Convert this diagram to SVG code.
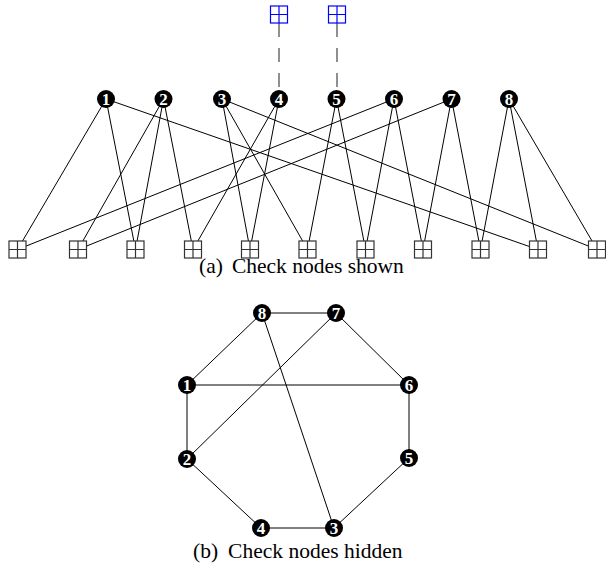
<svg xmlns="http://www.w3.org/2000/svg" width="606" height="563" viewBox="0 0 606 563">
<style>
.e{stroke:#000;stroke-width:1;fill:none}
.d{stroke:#555;stroke-width:1.3;stroke-dasharray:14 11;fill:none}
.v circle{fill:#000}
.v text{fill:#fff;font-family:"Liberation Serif",serif;font-weight:bold;font-size:17px;text-anchor:middle}
.c{fill:#fff;stroke:#333;stroke-width:1.2}
.b{fill:#fff;stroke:#00f;stroke-width:1.2}
.cap{font-family:"Liberation Serif",serif;font-size:21.5px;fill:#000}
</style>
<defs>
<g id="chk"><rect x="-8.5" y="-8.5" width="17" height="17"/><path d="M0,-8.5V8.5M-8.5,0H8.5"/></g>
</defs>
<g id="connectors">
<line class="d" x1="279" y1="23" x2="279" y2="90"/>
<line class="d" x1="337" y1="23" x2="337" y2="90"/>
<line class="e" x1="106" y1="99" x2="17.5" y2="249.5"/>
<line class="e" x1="106" y1="99" x2="135.5" y2="249.5"/>
<line class="e" x1="106" y1="99" x2="538" y2="249.5"/>
<line class="e" x1="163.5" y1="99" x2="78" y2="249.5"/>
<line class="e" x1="163.5" y1="99" x2="135.5" y2="249.5"/>
<line class="e" x1="163.5" y1="99" x2="193" y2="249.5"/>
<line class="e" x1="222" y1="99" x2="250" y2="249.5"/>
<line class="e" x1="222" y1="99" x2="307.5" y2="249.5"/>
<line class="e" x1="222" y1="99" x2="597" y2="249.5"/>
<line class="e" x1="279" y1="99" x2="193" y2="249.5"/>
<line class="e" x1="279" y1="99" x2="250" y2="249.5"/>
<line class="e" x1="336.5" y1="99" x2="307.5" y2="249.5"/>
<line class="e" x1="336.5" y1="99" x2="365.5" y2="249.5"/>
<line class="e" x1="394" y1="99" x2="17.5" y2="249.5"/>
<line class="e" x1="394" y1="99" x2="365.5" y2="249.5"/>
<line class="e" x1="394" y1="99" x2="423" y2="249.5"/>
<line class="e" x1="451.5" y1="99" x2="78" y2="249.5"/>
<line class="e" x1="451.5" y1="99" x2="423" y2="249.5"/>
<line class="e" x1="451.5" y1="99" x2="480.5" y2="249.5"/>
<line class="e" x1="509" y1="99" x2="480.5" y2="249.5"/>
<line class="e" x1="509" y1="99" x2="538" y2="249.5"/>
<line class="e" x1="509" y1="99" x2="597" y2="249.5"/>
<line class="e" x1="262" y1="313" x2="336" y2="313"/>
<line class="e" x1="262" y1="313" x2="187" y2="385"/>
<line class="e" x1="262" y1="313" x2="334" y2="528"/>
<line class="e" x1="336" y1="313" x2="187" y2="459"/>
<line class="e" x1="336" y1="313" x2="409" y2="385"/>
<line class="e" x1="187" y1="385" x2="409" y2="385"/>
<line class="e" x1="187" y1="385" x2="187" y2="459"/>
<line class="e" x1="409" y1="385" x2="409" y2="458"/>
<line class="e" x1="187" y1="459" x2="261" y2="528"/>
<line class="e" x1="409" y1="458" x2="334" y2="528"/>
<line class="e" x1="261" y1="528" x2="334" y2="528"/>
</g>
<g id="top-checks" class="b">
<use id="t1" href="#chk" x="279" y="14.5"/>
<use id="t2" href="#chk" x="337" y="14.5"/>
</g>
<g id="checks" class="c">
<use id="c1" href="#chk" x="17.5" y="249.5"/>
<use id="c2" href="#chk" x="78" y="249.5"/>
<use id="c3" href="#chk" x="135.5" y="249.5"/>
<use id="c4" href="#chk" x="193" y="249.5"/>
<use id="c5" href="#chk" x="250" y="249.5"/>
<use id="c6" href="#chk" x="307.5" y="249.5"/>
<use id="c7" href="#chk" x="365.5" y="249.5"/>
<use id="c8" href="#chk" x="423" y="249.5"/>
<use id="c9" href="#chk" x="480.5" y="249.5"/>
<use id="c10" href="#chk" x="538" y="249.5"/>
<use id="c11" href="#chk" x="597" y="249.5"/>
</g>
<g id="var-a" class="v">
<g id="a1"><circle cx="106" cy="99" r="9"/><text x="106" y="105">1</text></g>
<g id="a2"><circle cx="163.5" cy="99" r="9"/><text x="163.5" y="105">2</text></g>
<g id="a3"><circle cx="222" cy="99" r="9"/><text x="222" y="105">3</text></g>
<g id="a4"><circle cx="279" cy="99" r="9"/><text x="279" y="105">4</text></g>
<g id="a5"><circle cx="336.5" cy="99" r="9"/><text x="336.5" y="105">5</text></g>
<g id="a6"><circle cx="394" cy="99" r="9"/><text x="394" y="105">6</text></g>
<g id="a7"><circle cx="451.5" cy="99" r="9"/><text x="451.5" y="105">7</text></g>
<g id="a8"><circle cx="509" cy="99" r="9"/><text x="509" y="105">8</text></g>
</g>
<g id="var-b" class="v">
<g id="b8"><circle cx="262" cy="313" r="9"/><text x="262" y="319">8</text></g>
<g id="b7"><circle cx="336" cy="313" r="9"/><text x="336" y="319">7</text></g>
<g id="b1"><circle cx="187" cy="385" r="9"/><text x="187" y="391">1</text></g>
<g id="b6"><circle cx="409" cy="385" r="9"/><text x="409" y="391">6</text></g>
<g id="b2"><circle cx="187" cy="459" r="9"/><text x="187" y="465">2</text></g>
<g id="b5"><circle cx="409" cy="458" r="9"/><text x="409" y="464">5</text></g>
<g id="b4"><circle cx="261" cy="528" r="9"/><text x="261" y="534">4</text></g>
<g id="b3"><circle cx="334" cy="528" r="9"/><text x="334" y="534">3</text></g>
</g>
<text class="cap" x="199" y="273">(a)<tspan dx="9">Check nodes shown</tspan></text>
<text class="cap" x="193" y="558">(b)<tspan dx="10">Check nodes hidden</tspan></text>
</svg>
